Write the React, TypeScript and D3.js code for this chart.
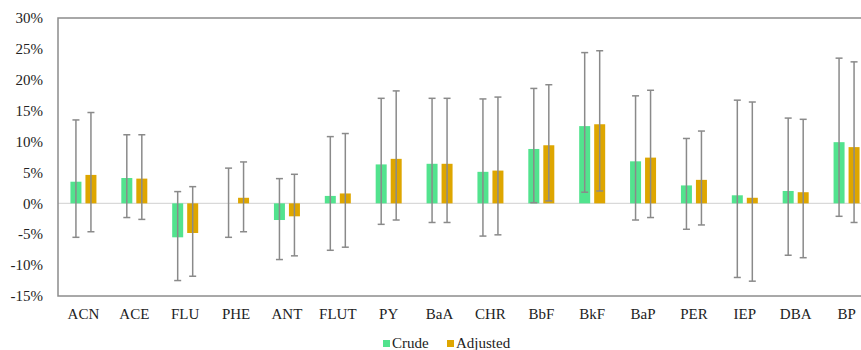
import * as d3 from 'd3';
import React from 'react';

const categories = ['ACN', 'ACE', 'FLU', 'PHE', 'ANT', 'FLUT', 'PY', 'BaA', 'CHR', 'BbF', 'BkF', 'BaP', 'PER', 'IEP', 'DBA', 'BP'];
const seriesNames = ['Crude', 'Adjusted'];

// percent change per compound
const crude = [3.5, 4.1, -5.5, 0, -2.7, 1.2, 6.3, 6.4, 5.1, 8.8, 12.5, 6.8, 2.9, 1.3, 2.0, 9.9];
const crudeLow = [-5.5, -2.3, -12.5, -5.5, -9.1, -7.6, -3.4, -3.1, -5.3, 0.1, 1.8, -2.7, -4.2, -12.0, -8.4, -2.1];
const crudeHigh = [13.5, 11.1, 1.9, 5.7, 4.0, 10.8, 17.0, 17.0, 16.9, 18.6, 24.4, 17.4, 10.5, 16.7, 13.8, 23.5];

const adjusted = [4.6, 4.0, -4.8, 0.9, -2.1, 1.6, 7.2, 6.4, 5.3, 9.4, 12.8, 7.4, 3.8, 0.9, 1.8, 9.1];
const adjustedLow = [-4.6, -2.6, -11.8, -4.6, -8.5, -7.1, -2.7, -3.1, -5.1, 0.4, 2.0, -2.3, -3.5, -12.6, -8.8, -3.1];
const adjustedHigh = [14.7, 11.1, 2.7, 6.7, 4.7, 11.3, 18.2, 17.0, 17.2, 19.2, 24.7, 18.3, 11.7, 16.4, 13.6, 22.9];

const yTicks = [30, 25, 20, 15, 10, 5, 0, -5, -10, -15];

const colors = { Crude: '#52E38E', Adjusted: '#DEA600' };

const App = () => {
  const width = 861, height = 350;
  const margin = { top: 18, left: 58, right: -11, bottom: 54 };
  const plotRight = width - margin.right;
  const plotBottom = height - margin.bottom;

  const x = d3.scaleBand().domain(categories).range([margin.left, plotRight]);
  const bw = x.bandwidth();
  const x1 = d3.scaleBand().domain(seriesNames)
    .range([bw / 2 - 13, bw / 2 + 13])
    .paddingInner(0.2667);

  const y = d3.scaleLinear().domain([-15, 30]).range([plotBottom, margin.top]);

  const rows = categories.map((c, i) => ({
    cat: c,
    vals: [
      { s: 'Crude', v: crude[i], lo: crudeLow[i], hi: crudeHigh[i] },
      { s: 'Adjusted', v: adjusted[i], lo: adjustedLow[i], hi: adjustedHigh[i] },
    ],
  }));

  const font = '"Liberation Serif", "Times New Roman", serif';
  const errColor = '#8a8a8a';

  return (
    <svg width={width} height={height} style={{ position: 'absolute', left: 0, top: 0, background: '#fff' }}>
      {/* zero line */}
      <line x1={margin.left} x2={plotRight} y1={y(0)} y2={y(0)} stroke="#d9d9d9" strokeWidth={1.2} />

      {/* bars */}
      {rows.map(r => (
        <g key={r.cat} transform={`translate(${x(r.cat)},0)`}>
          {r.vals.map(d => (
            <rect key={d.s}
              x={x1(d.s)} width={x1.bandwidth()}
              y={y(Math.max(0, d.v))} height={Math.abs(y(d.v) - y(0))}
              fill={colors[d.s]} />
          ))}
        </g>
      ))}

      {/* error bars */}
      {rows.map(r => (
        <g key={r.cat + 'err'} transform={`translate(${x(r.cat)},0)`}>
          {r.vals.map(d => {
            const cx = x1(d.s) + x1.bandwidth() / 2;
            return (
              <g key={d.s} stroke={errColor} strokeWidth={1.5}>
                <line x1={cx} x2={cx} y1={y(d.hi)} y2={y(d.lo)} />
                <line x1={cx - 3.5} x2={cx + 3.5} y1={y(d.hi)} y2={y(d.hi)} />
                <line x1={cx - 3.5} x2={cx + 3.5} y1={y(d.lo)} y2={y(d.lo)} />
              </g>
            );
          })}
        </g>
      ))}

      {/* frame */}
      <rect x={margin.left} y={margin.top} width={plotRight - margin.left} height={plotBottom - margin.top}
        fill="none" stroke="#8c8c8c" strokeWidth={1.5} />

      {/* y axis labels */}
      {yTicks.map(t => (
        <text key={t} x={43} y={y(t)} dy="0.35em" textAnchor="end"
          fontFamily={font} fontSize={15} fill="#222">{t + '%'}</text>
      ))}

      {/* x axis labels */}
      {categories.map(c => (
        <text key={c} x={x(c) + bw / 2} y={319} textAnchor="middle"
          fontFamily={font} fontSize={15} fill="#222">{c}</text>
      ))}

      {/* legend */}
      <g fontFamily={font} fontSize={15} fill="#222">
        <rect x={383} y={340} width={7} height={7} fill={colors.Crude} />
        <text x={392} y={347.5}>Crude</text>
        <rect x={447} y={340} width={7} height={7} fill={colors.Adjusted} />
        <text x={456} y={347.5}>Adjusted</text>
      </g>
    </svg>
  );
};

export default App;
